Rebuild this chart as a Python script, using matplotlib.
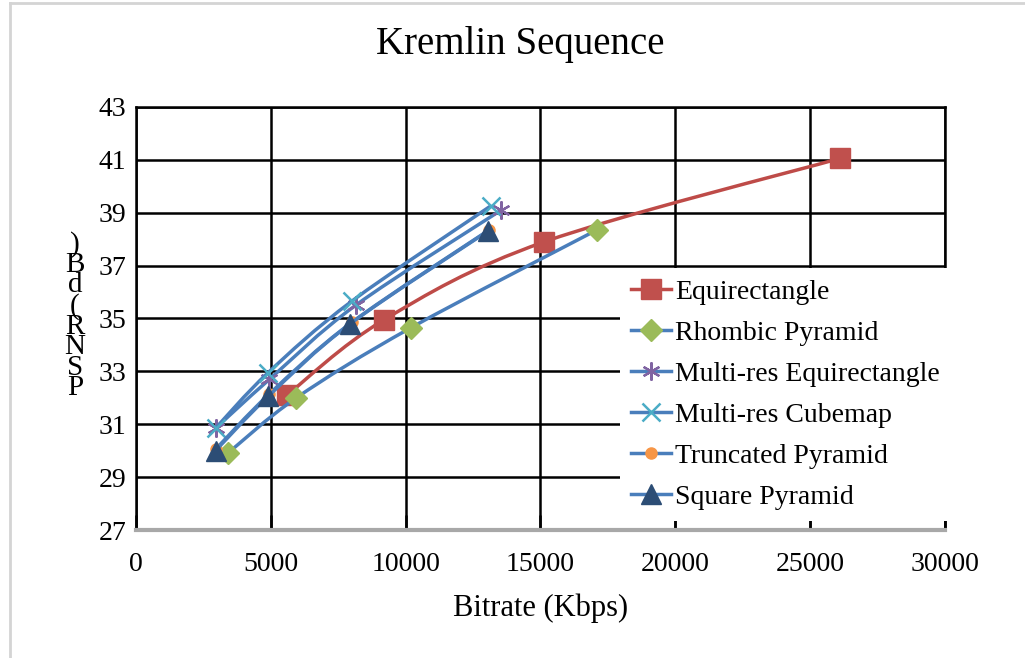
import numpy as np
import matplotlib.pyplot as plt
from matplotlib.path import Path
from matplotlib.patches import PathPatch
from matplotlib.lines import Line2D

plt.rcParams['font.family'] = ['Liberation Serif', 'DejaVu Serif']

# --- DATA ---
labels = ['Equirectangle', 'Rhombic Pyramid', 'Multi-res Equirectangle',
          'Multi-res Cubemap', 'Truncated Pyramid', 'Square Pyramid']

equi_x = [5600, 9200, 15150, 26100]
equi_y = [32.1, 34.95, 37.9, 41.05]
rhomb_x = [3400, 5950, 10200, 17100]
rhomb_y = [29.9, 32.0, 34.65, 38.35]
mre_x = [2950, 4950, 8150, 13550]
mre_y = [30.85, 32.7, 35.5, 39.1]
mrc_x = [2950, 4900, 8000, 13150]
mrc_y = [30.85, 32.95, 35.65, 39.25]
trunc_x = [2950, 4950, 8000, 13100]
trunc_y = [30.05, 32.15, 34.85, 38.35]
sq_x = [2950, 4900, 7950, 13050]
sq_y = [30.0, 32.05, 34.8, 38.3]

xs = [equi_x, rhomb_x, mre_x, mrc_x, trunc_x, sq_x]
ys = [equi_y, rhomb_y, mre_y, mrc_y, trunc_y, sq_y]

x_ticks = [0, 5000, 10000, 15000, 20000, 25000, 30000]
y_ticks = [27, 29, 31, 33, 35, 37, 39, 41, 43]

# --- STYLE ---
line_cols = ['#BE4B48', '#4A7EBB', '#4A7EBB', '#4A7EBB', '#4A7EBB', '#4A7EBB']
mk = [
    dict(marker='s', ms=15, mfc='#C0504D', mec='#C0504D'),
    dict(marker='D', ms=11, mfc='#9BBB59', mec='#9BBB59'),
    dict(marker=(6, 2, 0), ms=13, mfc='#8064A2', mec='#8064A2', mew=1.6),
    dict(marker='x', ms=13, mfc='#4BACC6', mec='#4BACC6', mew=1.8),
    dict(marker='o', ms=8, mfc='#F79646', mec='#F79646'),
    dict(marker='^', ms=14, mfc='#2C4D75', mec='#2C4D75'),
]
lw = 2.5


def smooth_path(x, y):
    # Excel-like smoothed line: Catmull-Rom turned into cubic Bezier segments
    pts = np.column_stack([x, y]).astype(float)
    ext = np.vstack([pts[0], pts, pts[-1]])
    verts = [pts[0]]
    codes = [Path.MOVETO]
    for i in range(len(pts) - 1):
        p0, p1, p2, p3 = ext[i], ext[i + 1], ext[i + 2], ext[i + 3]
        verts += [p1 + (p2 - p0) / 6, p2 - (p3 - p1) / 6, p2]
        codes += [Path.CURVE4] * 3
    return Path(verts, codes)


fig = plt.figure(figsize=(10.25, 6.58), dpi=100)
ax = fig.add_axes([0.1327, 0.1945, 0.789, 0.643])

for i in range(len(labels)):
    z = 3 + i * 0.1
    ax.add_patch(PathPatch(smooth_path(xs[i], ys[i]), fill=False,
                           edgecolor=line_cols[i], lw=lw, zorder=z))
    ax.plot(xs[i], ys[i], ls='none', zorder=z + 0.05, **mk[i])

ax.set_xlim(0, 30000)
ax.set_ylim(27, 43)
ax.set_xticks(x_ticks)
ax.set_yticks(y_ticks)
ax.grid(True, color='black', lw=1.8)
ax.set_axisbelow(True)

for s in ['top', 'right', 'left']:
    ax.spines[s].set_color('black')
    ax.spines[s].set_linewidth(1.8)
ax.spines['bottom'].set_color('#a8a8a8')
ax.spines['bottom'].set_linewidth(3)

ax.tick_params(axis='x', direction='in', length=11, width=1.8, color='black',
               pad=16, labelsize=20)
ax.tick_params(axis='y', length=0, pad=7, labelsize=20)
ax.set_xlabel('Bitrate (Kbps)', fontsize=22, labelpad=12)

handles = [Line2D([], [], color=line_cols[i], lw=lw, **mk[i])
           for i in range(len(labels))]
leg = ax.legend(handles, labels, loc='upper left', bbox_to_anchor=(0.598, 0.619),
                borderaxespad=0, fontsize=20, handlelength=1.45,
                handletextpad=0.15, labelspacing=0.56, borderpad=0.4,
                fancybox=False, framealpha=1, edgecolor='none', facecolor='white')
leg.set_zorder(10)

fig.text(0.508, 0.932, 'Kremlin Sequence', fontsize=28, ha='center', va='center')
# y label shows up as a column of stacked letters in the reference
fig.text(75 / 1025, 1 - 316 / 658, '\n'.join(reversed('PSNR(dB)')), fontsize=21,
         ha='center', va='center', linespacing=0.72)

# light grey page frame
fig.add_artist(Line2D([10 / 1025, 10 / 1025], [0, 1 - 3 / 658],
                      transform=fig.transFigure, color='#d4d4d4', lw=2))
fig.add_artist(Line2D([10 / 1025, 1], [1 - 3 / 658, 1 - 3 / 658],
                      transform=fig.transFigure, color='#d4d4d4', lw=2))

fig.savefig('out.png', dpi=100)
